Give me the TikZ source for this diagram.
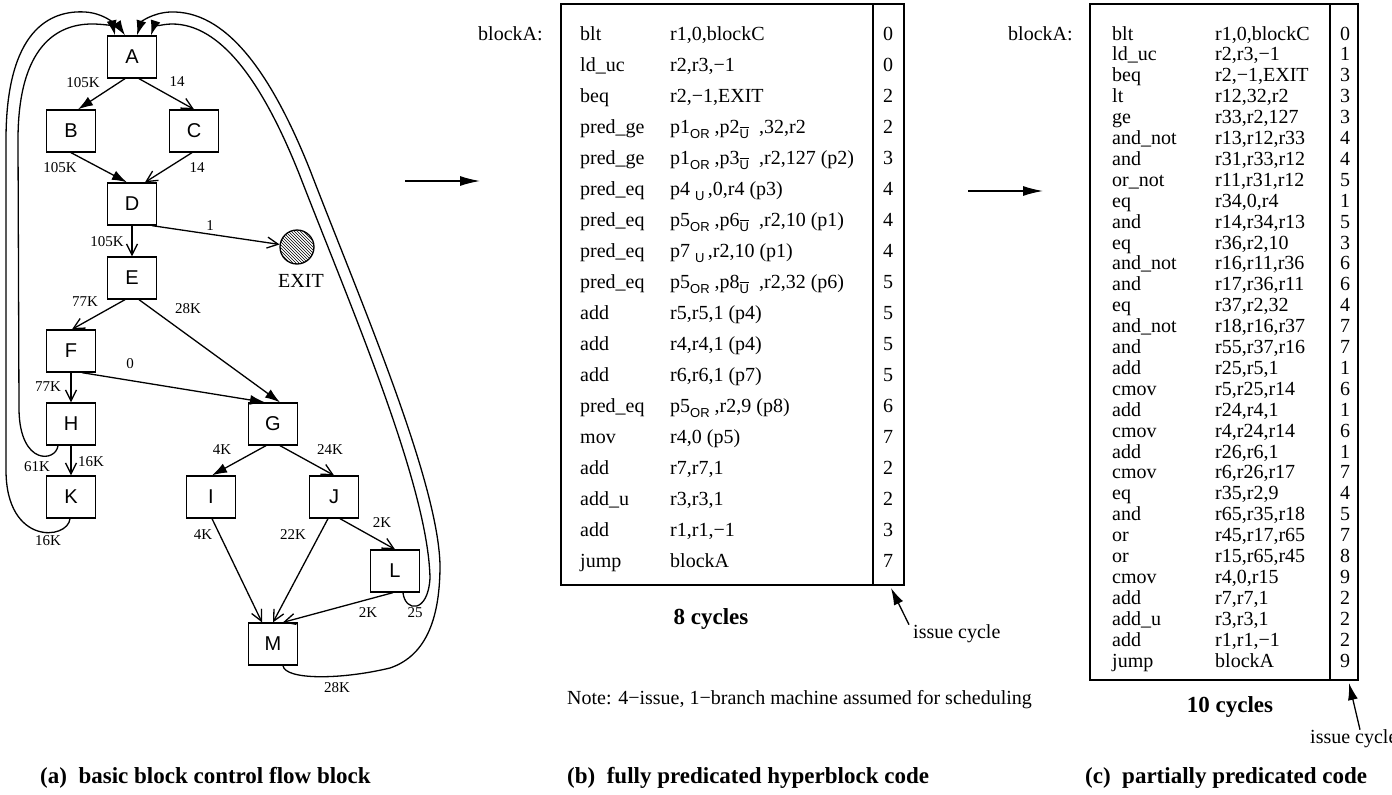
\documentclass[tikz,border=0pt]{standalone}
\usepackage{fontspec}
\setmainfont{Liberation Serif}
\setsansfont{Liberation Sans}
\usetikzlibrary{arrows.meta,positioning,patterns}

% predicate subscripts
\newcommand{\pOR}{\raisebox{-5pt}{\fontsize{13}{13}\selectfont\sffamily OR}}
\newcommand{\pU}{\raisebox{-5pt}{\fontsize{13}{13}\selectfont\sffamily U}}
\newcommand{\pUbar}{\raisebox{-5pt}{\fontsize{13}{13}\selectfont\sffamily$\overline{\hbox{U}}$}}

\tikzset{
  bb/.style={draw, line width=1.3pt, minimum width=49pt, minimum height=42pt, inner sep=0pt, font=\sffamily\fontsize{20}{24}\selectfont},
  lbl/.style={inner sep=0pt, font=\fontsize{15}{18}\selectfont},
  asm/.style={inner sep=0pt, anchor=base west, font=\fontsize{20}{24}\selectfont},
  cyc/.style={inner sep=0pt, anchor=base, font=\fontsize{20}{24}\selectfont},
  captext/.style={inner sep=0pt, anchor=base west, font=\bfseries\fontsize{23}{27}\selectfont},
  fedge/.style={line width=1.3pt, -{Latex[length=15pt,width=10pt]}},
  oedge/.style={line width=1.3pt, -{Straight Barb[length=11pt,width=11pt]}},
  bigarrow/.style={line width=1.3pt, -{Latex[length=20pt,width=10pt]}},
  boxline/.style={line width=1.3pt}
}

\begin{document}
\begin{tikzpicture}[x=1pt, y=-1pt]
    \useasboundingbox (0,0) rectangle (1392,795);

    % (a) control flow graph
    \node[bb] (A) at (132,57) {A};
    \node[bb] (B) at (71,131) {B};
    \node[bb] (C) at (194,131) {C};
    \node[bb] (D) at (132,204) {D};
    \node[bb] (E) at (132,278) {E};
    \node[bb] (F) at (71,351) {F};
    \node[bb] (H) at (71,424) {H};
    \node[bb] (K) at (71,497) {K};
    \node[bb] (G) at (273,424) {G};
    \node[bb] (I) at (211,497) {I};
    \node[bb] (J) at (334,497) {J};
    \node[bb] (L) at (395,571) {L};
    \node[bb] (M) at (273,644) {M};
    \node[circle, draw, line width=1.3pt, minimum size=34pt, pattern=north west lines] (EXIT) at (297,247) {};
    \node[inner sep=0pt, font=\fontsize{20}{24}\selectfont, below=10pt of EXIT, xshift=4pt] (exitlbl) {EXIT};

    \draw[fedge] ([xshift=-7pt]A.south) -- ([xshift=7pt]B.north);
    \draw[oedge] ([xshift=7pt]A.south) -- (C.north);
    \draw[fedge] (B.south) -- ([xshift=-5pt]D.north);
    \draw[oedge] ([xshift=-2pt]C.south) -- ([xshift=13pt]D.north);
    \draw[oedge] (D.south) -- (E.north);
    \draw[oedge] ([xshift=20pt]D.south) -- (EXIT);
    \draw[oedge] ([xshift=-7pt]E.south) -- ([xshift=1pt]F.north);
    \draw[fedge] ([xshift=7pt]E.south) -- ([xshift=7pt]G.north);
    \draw[fedge] ([xshift=11pt]F.south) -- ([xshift=-8pt]G.north);
    \draw[oedge] (F) -- (H);
    \draw[oedge] (H) -- (K);
    \draw[fedge] ([xshift=-7pt]G.south) -- ([xshift=1pt]I.north);
    \draw[oedge] ([xshift=7pt]G.south) -- (J.north);
    \draw[oedge] ([xshift=1pt]I.south) -- ([xshift=-11pt]M.north);
    \draw[oedge] ([xshift=-6pt]J.south) -- (M.north);
    \draw[oedge] ([xshift=6pt]J.south) -- (L.north);
    \draw[oedge] ([xshift=-2pt]L.south) -- ([xshift=10pt]M.north);

    % back edges to A
    \draw[fedge] ([xshift=-13pt]H.south) .. controls (56,462) and (20,466) .. (19,410) -- (18,140)
        .. controls (18,45) and (58,24) .. (92,24) .. controls (108,24) and (120,28) .. ([xshift=-7pt]A.north);
    \draw[fedge] ([xshift=-1pt]K.south) .. controls (68,540) and (6,546) .. (6,470) -- (6,140)
        .. controls (6,30) and (50,10) .. (85,12) .. controls (102,13) and (112,22) .. ([xshift=-17pt]A.north);
    \draw[fedge] ([xshift=8pt]L.south) .. controls (405,612) and (428,614) .. (430,578)
        .. controls (428,485) and (350,305) .. (300,176) .. controls (262,80) and (220,24) .. (172,24)
        .. controls (160,24) and (153,29) .. ([xshift=19pt]A.north);
    \draw[fedge] ([xshift=10pt]M.south) .. controls (285,680) and (340,680) .. (390,668)
        .. controls (428,655) and (440,615) .. (440,565) .. controls (438,480) and (360,300) .. (310,170)
        .. controls (270,70) and (225,10) .. (170,12) .. controls (152,13) and (141,22) .. ([xshift=5pt]A.north);

    % edge counts
    \node[lbl] (lAB) at (83,83) {105K};
    \node[lbl] (lAC) at (177,82) {14};
    \node[lbl] (lBD) at (60,168) {105K};
    \node[lbl] (lCD) at (197,168) {14};
    \node[lbl] (lDE) at (107,242) {105K};
    \node[lbl] (lDX) at (210,226) {1};
    \node[lbl] (lEF) at (85,302) {77K};
    \node[lbl] (lEG) at (188,309) {28K};
    \node[lbl] (lFG) at (130,364) {0};
    \node[lbl] (lFH) at (48,387) {77K};
    \node[lbl] (lHK) at (91,462) {16K};
    \node[lbl] (lHA) at (37,467) {61K};
    \node[lbl] (lKA) at (48,541) {16K};
    \node[lbl] (lGI) at (222,450) {4K};
    \node[lbl] (lGJ) at (330,450) {24K};
    \node[lbl] (lIM) at (203,535) {4K};
    \node[lbl] (lJM) at (293,535) {22K};
    \node[lbl] (lJL) at (382,523) {2K};
    \node[lbl] (lLM) at (368,613) {2K};
    \node[lbl] (lLA) at (415,613) {25};
    \node[lbl] (lMA) at (337,688) {28K};

    \node[captext] (capa) at (40,783) {(a)\ \ basic block control flow block};

    % transfer arrows
    \coordinate (trba) at (405,181);
    \coordinate (trbb) at (480,181);
    \coordinate (trca) at (968,191);
    \coordinate (trcb) at (1043,191);
    \draw[bigarrow] (trba) -- (trbb);
    \draw[bigarrow] (trca) -- (trcb);

    % (b) fully predicated code
    \node[asm] (blkb) at (478,40) {blockA:};
    \draw[boxline] (561,4) rectangle (904,585);
    \draw[boxline] (873,4) -- (873,585);
    \foreach \op/\arg/\cy [count=\i] in {
        blt/{r1,0,blockC}/0,
        ld\_uc/{r2,r3,−1}/0,
        beq/{r2,−1,EXIT}/2,
        pred\_ge/{p1\pOR\ ,p2\pUbar\ \ ,32,r2}/2,
        pred\_ge/{p1\pOR\ ,p3\pUbar\ \ ,r2,127 (p2)}/3,
        pred\_eq/{p4\ \pU\,,0,r4 (p3)}/4,
        pred\_eq/{p5\pOR\ ,p6\pUbar\ \ ,r2,10 (p1)}/4,
        pred\_eq/{p7\ \pU\,,r2,10 (p1)}/4,
        pred\_eq/{p5\pOR\ ,p8\pUbar\ \ ,r2,32 (p6)}/5,
        add/{r5,r5,1 (p4)}/5,
        add/{r4,r4,1 (p4)}/5,
        add/{r6,r6,1 (p7)}/5,
        pred\_eq/{p5\pOR\ ,r2,9 (p8)}/6,
        mov/{r4,0 (p5)}/7,
        add/{r7,r7,1}/2,
        add\_u/{r3,r3,1}/2,
        add/{r1,r1,−1}/3,
        jump/{blockA}/7} {
        \node[asm] (bop\i) at (580,{9+31*\i}) {\op};
        \node[asm] (barg\i) at (670,{9+31*\i}) {\arg};
        \node[cyc] (bcy\i) at (888,{9+31*\i}) {\cy};
    }
    \node[inner sep=0pt, font=\bfseries\fontsize{23}{27}\selectfont] (cycb) at (711,619) {8 cycles};
    \node[inner sep=0pt, anchor=west, font=\fontsize{20}{24}\selectfont] (issueb) at (913,634) {issue cycle};
    \coordinate (issuebtip) at (891,588);
    \draw[line width=1.3pt, -{Latex[length=17pt,width=10pt]}] ([xshift=-4pt]issueb.north west) -- (issuebtip);
    \node[inner sep=0pt, anchor=west, font=\fontsize{20}{24}\selectfont] (note) at (567,700) {Note: 4−issue, 1−branch machine assumed for scheduling};

    \node[captext] (capb) at (567,783) {(b)\ \ fully predicated hyperblock code};

    % (c) partially predicated code
    \node[asm] (blkc) at (1008,40) {blockA:};
    \draw[boxline] (1090,4) rectangle (1358,680);
    \draw[boxline] (1330,4) -- (1330,680);
    \foreach \op/\arg/\cy [count=\i] in {
        blt/{r1,0,blockC}/0,
        ld\_uc/{r2,r3,−1}/1,
        beq/{r2,−1,EXIT}/3,
        lt/{r12,32,r2}/3,
        ge/{r33,r2,127}/3,
        and\_not/{r13,r12,r33}/4,
        and/{r31,r33,r12}/4,
        or\_not/{r11,r31,r12}/5,
        eq/{r34,0,r4}/1,
        and/{r14,r34,r13}/5,
        eq/{r36,r2,10}/3,
        and\_not/{r16,r11,r36}/6,
        and/{r17,r36,r11}/6,
        eq/{r37,r2,32}/4,
        and\_not/{r18,r16,r37}/7,
        and/{r55,r37,r16}/7,
        add/{r25,r5,1}/1,
        cmov/{r5,r25,r14}/6,
        add/{r24,r4,1}/1,
        cmov/{r4,r24,r14}/6,
        add/{r26,r6,1}/1,
        cmov/{r6,r26,r17}/7,
        eq/{r35,r2,9}/4,
        and/{r65,r35,r18}/5,
        or/{r45,r17,r65}/7,
        or/{r15,r65,r45}/8,
        cmov/{r4,0,r15}/9,
        add/{r7,r7,1}/2,
        add\_u/{r3,r3,1}/2,
        add/{r1,r1,−1}/2,
        jump/{blockA}/9} {
        \node[asm] (cop\i) at (1112,{19.1+20.9*\i}) {\op};
        \node[asm] (carg\i) at (1215,{19.1+20.9*\i}) {\arg};
        \node[cyc] (ccy\i) at (1345,{19.1+20.9*\i}) {\cy};
    }
    \node[inner sep=0pt, font=\bfseries\fontsize{23}{27}\selectfont] (cycc) at (1230,707) {10 cycles};
    \node[inner sep=0pt, anchor=west, font=\fontsize{20}{24}\selectfont] (issuec) at (1310,739) {issue cycle};
    \coordinate (issuectip) at (1349,683);
    \draw[line width=1.3pt, -{Latex[length=17pt,width=10pt]}] ([xshift=50pt]issuec.north west) -- (issuectip);

    \node[captext] (capc) at (1085,783) {(c)\ \ partially predicated code};
\end{tikzpicture}
\end{document}
